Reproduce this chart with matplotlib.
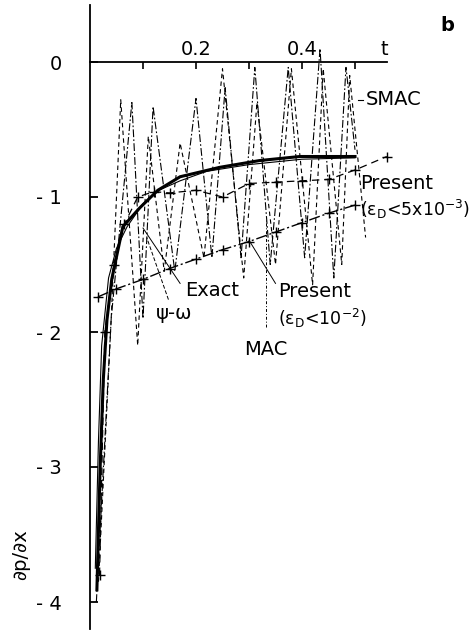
import matplotlib
matplotlib.use("Agg")
import matplotlib.pyplot as plt

# ---- data ----
t_exact = [0.013, 0.019, 0.025, 0.032, 0.041, 0.062, 0.094, 0.128, 0.17, 0.245, 0.32, 0.396, 0.50]
y_exact = [-3.91, -3.02, -2.36, -1.91, -1.61, -1.22, -1.08, -0.95, -0.85, -0.78, -0.73, -0.70, -0.70]

t_psi = [0.010, 0.016, 0.022, 0.035, 0.05, 0.07, 0.10, 0.13, 0.17, 0.22, 0.30, 0.40, 0.50]
y_psi = [-3.75, -2.80, -2.10, -1.60, -1.38, -1.22, -1.05, -0.95, -0.88, -0.81, -0.76, -0.72, -0.71]

t_smac = [0.012, 0.04, 0.079, 0.10, 0.119, 0.16, 0.20, 0.23, 0.255, 0.285, 0.311,
          0.34, 0.374, 0.405, 0.434, 0.46, 0.483, 0.50]
y_smac = [-4.0, -1.9, -0.30, -1.9, -0.33, -1.55, -0.27, -1.45, -0.19, -1.45, -0.04,
          -1.50, -0.04, -1.45, 0.10, -1.60, -0.04, -0.65]

t_mac = [0.016, 0.04, 0.058, 0.09, 0.11, 0.14, 0.17, 0.215, 0.25, 0.29, 0.315,
         0.35, 0.38, 0.42, 0.44, 0.475, 0.49, 0.52]
y_mac = [-3.85, -1.90, -0.28, -2.10, -0.55, -1.55, -0.60, -1.45, -0.05, -1.60, -0.30,
         -1.50, -0.05, -1.65, -0.05, -1.50, -0.10, -1.30]

t_pres1 = [0.018, 0.028, 0.045, 0.065, 0.09, 0.12, 0.15, 0.20, 0.25, 0.30, 0.35, 0.40, 0.45, 0.50, 0.56]
y_pres1 = [-3.80, -2.00, -1.50, -1.20, -1.00, -0.96, -0.97, -0.95, -1.00, -0.90, -0.89, -0.88, -0.87, -0.80, -0.70]

t_pres2 = [0.015, 0.05, 0.10, 0.15, 0.20, 0.25, 0.30, 0.35, 0.40, 0.45, 0.50]
y_pres2 = [-1.74, -1.68, -1.61, -1.53, -1.46, -1.39, -1.33, -1.26, -1.19, -1.12, -1.06]

yticks = [0, -1, -2, -3, -4]
ytick_labels = ["0", "- 1", "- 2", "- 3", "- 4"]
xticks_major = [0.2, 0.4]
xticks_minor = [0.1, 0.3, 0.5]

# ---- figure ----
W, H = 477, 630
fig = plt.figure(figsize=(W / 100, H / 100), dpi=100)
ax = fig.add_axes([0, 0, 1, 1])
ax.set_xlim(-90 / 530, (W - 90) / 530)
ax.set_ylim(-(H - 62) / 135, 62 / 135)

for s in ("bottom", "right"):
    ax.spines[s].set_visible(False)
ax.spines["left"].set_position(("data", 0))
ax.spines["left"].set_bounds(-4.2, 0.42)
ax.spines["top"].set_position(("data", 0))
ax.spines["top"].set_bounds(0, 0.56)
for s in ("left", "top"):
    ax.spines[s].set_linewidth(1.3)

ax.xaxis.set_ticks_position("top")
ax.set_xticks(xticks_major)
ax.set_xticklabels(["0.2", "0.4"])
ax.set_xticks(xticks_minor, minor=True)
ax.tick_params(axis="x", which="both", direction="in", length=5, width=1.2,
               labelsize=14, pad=2)
ax.set_yticks(yticks)
ax.set_yticklabels(ytick_labels)
ax.tick_params(axis="y", direction="in", length=6, width=1.3, labelsize=14, pad=20)

lc = "black"
ax.plot(t_smac, y_smac, color=lc, lw=0.8, ls=(0, (7, 2, 1.5, 2)))
ax.plot(t_mac, y_mac, color=lc, lw=0.8, ls=(0, (4, 3)))
ax.plot(t_psi, y_psi, color=lc, lw=0.8, ls="-")
ax.plot(t_pres1, y_pres1, color=lc, lw=0.9, ls=(0, (6, 4)), marker="+", ms=7, mew=1)
ax.plot(t_pres2, y_pres2, color=lc, lw=1.0, ls=(0, (8, 2, 1.5, 2)), marker="+", ms=7, mew=1)
ax.plot(t_exact, y_exact, color=lc, lw=2.2, ls="-")

fs = 14
ax.text(0.555, 0.09, "t", fontsize=fs, ha="center", va="center")
ax.text(0.675, 0.27, "b", fontsize=fs, ha="center", va="center", fontweight="bold")
ax.text(0.52, -0.28, "SMAC", fontsize=fs, ha="left", va="center")
ax.plot([0.505, 0.515], [-0.28, -0.28], color=lc, lw=0.8)
ax.text(0.51, -0.90, "Present", fontsize=fs, ha="left", va="center")
ax.text(0.51, -1.09, "(ε$_{\\rm D}$<5x10$^{-3}$)", fontsize=12.5, ha="left", va="center")
ax.text(0.18, -1.69, "Exact", fontsize=fs, ha="left", va="center")
ax.plot([0.17, 0.10], [-1.64, -1.23], color=lc, lw=0.7)
ax.text(0.125, -1.86, "ψ-ω", fontsize=fs, ha="left", va="center")
ax.plot([0.148, 0.107], [-1.76, -1.30], color=lc, lw=0.7, ls=(0, (4, 2)))
ax.text(0.355, -1.70, "Present", fontsize=fs, ha="left", va="center")
ax.plot([0.35, 0.30], [-1.64, -1.32], color=lc, lw=0.7)
ax.text(0.355, -1.90, "(ε$_{\\rm D}$<10$^{-2}$)", fontsize=12.5, ha="left", va="center")
ax.text(0.29, -2.13, "MAC", fontsize=fs, ha="left", va="center")
ax.plot([0.332, 0.332], [-1.96, -1.17], color=lc, lw=0.7, ls=(0, (3, 2, 1, 2)))
ax.text(-0.13, -3.65, "∂p/∂x", fontsize=fs, rotation=90, ha="center", va="center")

fig.savefig("out.png", dpi=100)
